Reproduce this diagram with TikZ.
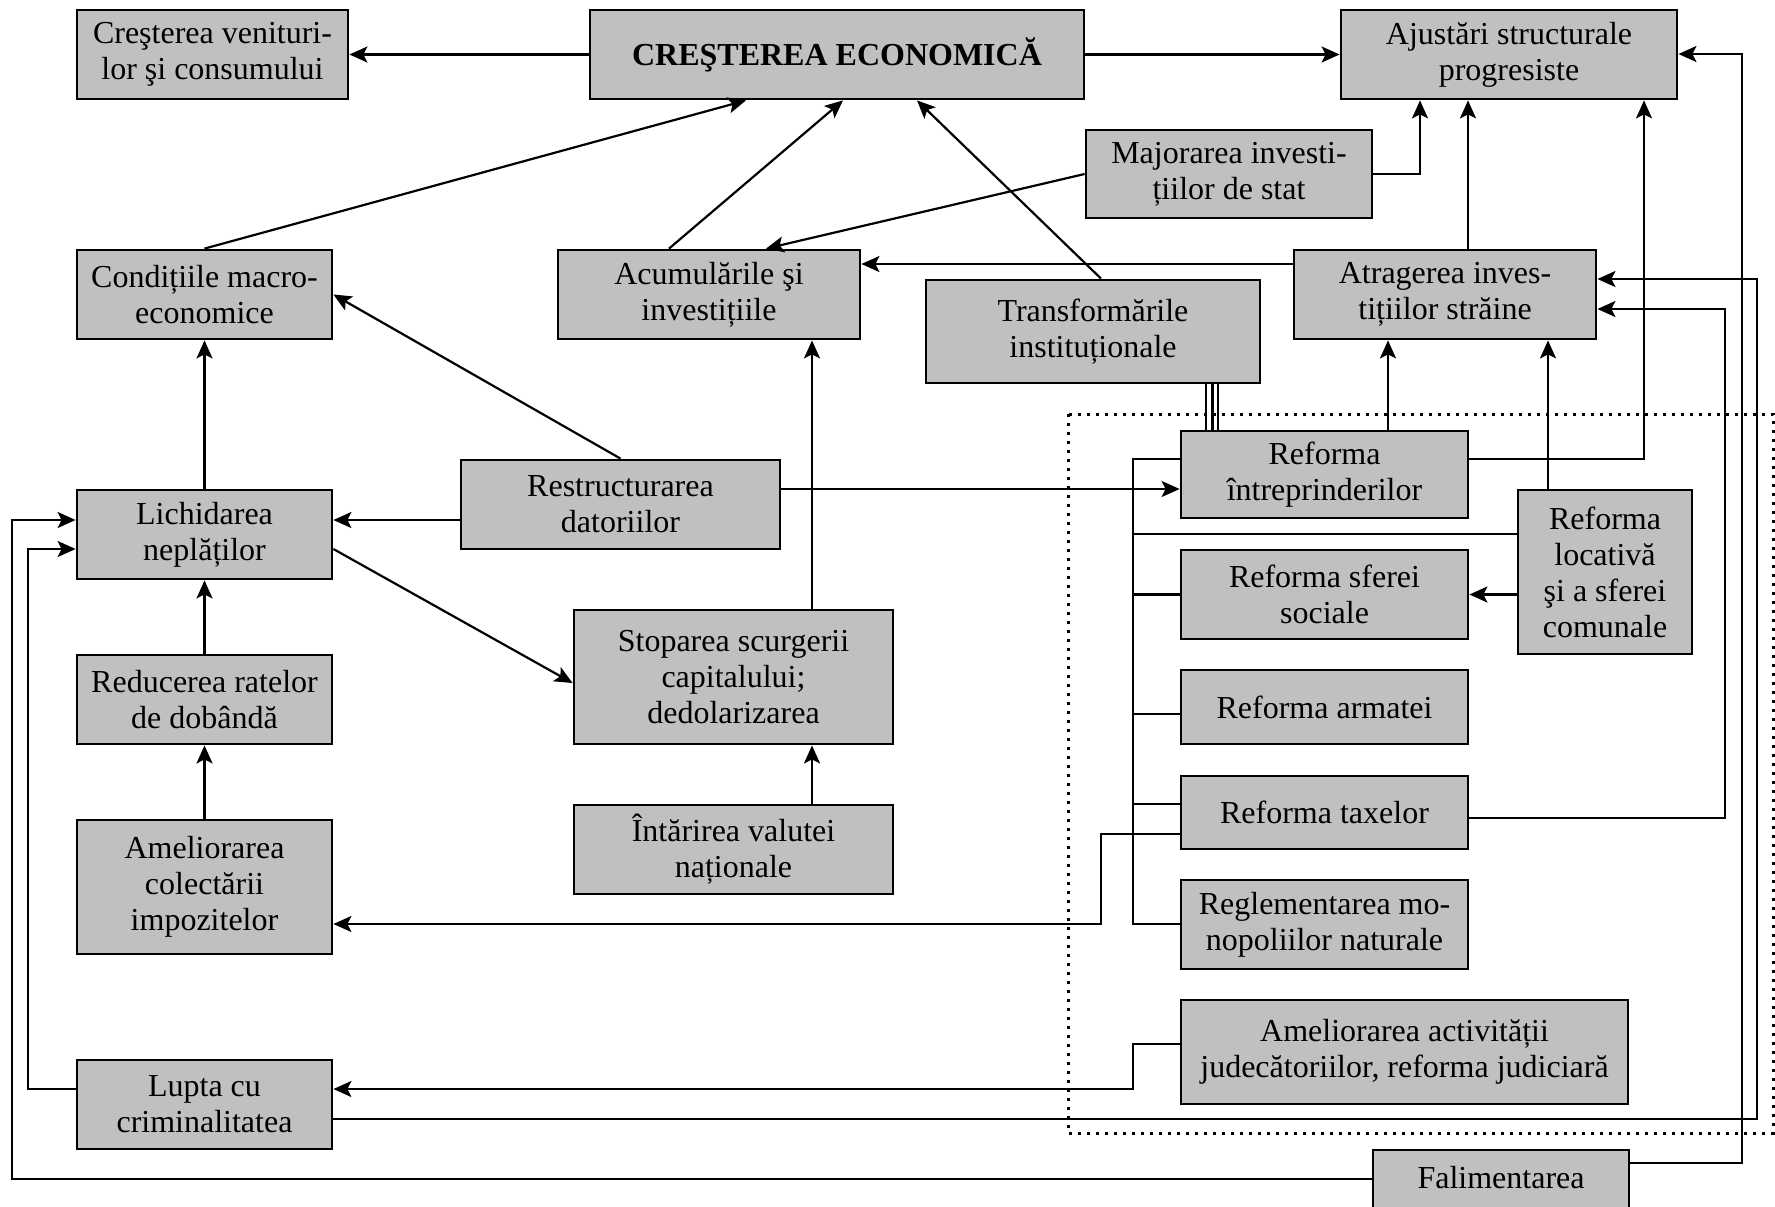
\documentclass[tikz,border=0pt]{standalone}
\usepackage{fontspec}
\setmainfont{Liberation Serif}
\usetikzlibrary{arrows.meta,calc}
\definecolor{boxgray}{HTML}{C0C0C0}
\newcommand\mkbox[6]{\node[bx, minimum width={(#4-#2)*0.5pt}, minimum height={(#5-#3)*0.5pt}] (#1) at ({(#2+#4)/2},{(#3+#5)/2}) {#6};}
\begin{document}
\begin{tikzpicture}[x=0.5pt,y=-0.5pt,
  bx/.style={draw=black, line width=1.4pt, fill=boxgray, inner sep=0pt, align=center, font=\fontsize{16}{18}\selectfont},
  ln/.style={line width=1.1pt},
  arr/.style={ln, -{Stealth[length=9pt,width=8pt,inset=2pt]}},
  dotbox/.style={line width=1.5pt, dash pattern=on 1.5pt off 3pt}
  ]
\useasboundingbox (0,0) rectangle (1775,1206);
\clip (0,0) rectangle (1775,1206);

% guides
\foreach \v in {746,669,843,1101,917,766,1420,1468,812,1388,1548,1644,1206,1212,1218}
  \coordinate (gx\v) at (\v,0);
\foreach \v in {264,520,549,683,489,534,714,804,834,818,1044,1119,1089,1179,1163}
  \coordinate (gy\v) at (0,\v);

% dotted group frame
\draw[dotbox] (1068,414) rectangle (1773,1133);

% boxes
\mkbox{venit}{77}{10}{348}{99}{Creşterea venituri-\\lor şi consumului}
\mkbox{econ}{590}{10}{1084}{99}{\textbf{CREŞTEREA ECONOMICĂ}}
\mkbox{ajust}{1341}{10}{1677}{99}{Ajustări structurale\\progresiste}
\mkbox{major}{1086}{130}{1372}{218}{Majorarea investi-\\țiilor de stat}
\mkbox{cond}{77}{250}{332}{339}{Condițiile macro-\\economice}
\mkbox{acum}{558}{250}{860}{339}{Acumulările şi\\investițiile}
\mkbox{transf}{926}{280}{1260}{383}{Transformările\\instituționale}
\mkbox{atrag}{1294}{250}{1596}{339}{Atragerea inves-\\tițiilor străine}
\mkbox{lichid}{77}{490}{332}{579}{Lichidarea\\neplăților}
\mkbox{restr}{461}{460}{780}{549}{Restructurarea\\datoriilor}
\mkbox{stop}{574}{610}{893}{744}{Stoparea scurgerii\\capitalului;\\dedolarizarea}
\mkbox{reduc}{77}{655}{332}{744}{Reducerea ratelor\\de dobândă}
\mkbox{amel}{77}{820}{332}{954}{Ameliorarea\\colectării\\impozitelor}
\mkbox{intar}{574}{805}{893}{894}{Întărirea valutei\\naționale}
\mkbox{lupta}{77}{1060}{332}{1149}{Lupta cu\\criminalitatea}
\mkbox{rintr}{1181}{431}{1468}{518}{Reforma\\întreprinderilor}
\mkbox{rloc}{1518}{490}{1692}{654}{Reforma\\locativă\\şi a sferei\\comunale}
\mkbox{rsoc}{1181}{550}{1468}{639}{Reforma sferei\\sociale}
\mkbox{rarm}{1181}{670}{1468}{744}{Reforma armatei}
\mkbox{rtax}{1181}{776}{1468}{849}{Reforma taxelor}
\mkbox{rmon}{1181}{880}{1468}{969}{Reglementarea mo-\\nopoliilor naturale}
\mkbox{rjud}{1181}{1000}{1628}{1104}{Ameliorarea activității\\judecătoriilor, reforma judiciară}
\mkbox{falim}{1373}{1150}{1629}{1240}{}
\node[font=\fontsize{16}{18}\selectfont] (falimtxt) at (1501,1178) {Falimentarea};

% connectors
\draw[arr] (econ.west) -- (venit.east);
\draw[arr] (econ.east) -- (ajust.west);
\draw[arr] (cond.north) -- (econ.south -| gx746);
\draw[arr] (acum.north -| gx669) -- (econ.south -| gx843);
\draw[arr] (transf.north -| gx1101) -- (econ.south -| gx917);
\draw[arr] (major.west) -- (acum.north -| gx766);
\draw[arr] (major.east) -| (ajust.south -| gx1420);
\draw[arr] (atrag.north -| gx1468) -- (ajust.south -| gx1468);
\draw[arr] (atrag.west |- gy264) -- (acum.east |- gy264);
\draw[arr] (lichid.north) -- (cond.south);
\draw[arr] (restr.north) -- (cond.east);
\draw[arr] (restr.west |- gy520) -- (lichid.east |- gy520);
\draw[arr] (lichid.east |- gy549) -- (stop.west |- gy683);
\draw[arr] (stop.north -| gx812) -- (acum.south -| gx812);
\draw[arr] (intar.north -| gx812) -- (stop.south -| gx812);
\draw[arr] (reduc.north) -- (lichid.south);
\draw[arr] (amel.north) -- (reduc.south);
\draw[arr] (restr.east |- gy489) -- (rintr.west |- gy489);
\draw[arr] (rintr.north -| gx1388) -- (atrag.south -| gx1388);
\draw[arr] (rloc.north -| gx1548) -- (atrag.south -| gx1548);
\coordinate (btop) at (1133,459);
\coordinate (bbot) at (1133,924);
\draw[arr] (rintr.east |- btop) -| (ajust.south -| gx1644);
\draw[arr] (rloc.west |- rsoc.east) -- (rsoc.east);

% bus
\draw[ln] (rintr.west |- btop) -- (btop) -- (bbot) -- (rmon.west |- bbot);
\draw[ln] (btop |- gy534) -- (rloc.west |- gy534);
\draw[ln] (btop |- rsoc.west) -- (rsoc.west);
\draw[ln] (btop |- gy714) -- (rarm.west |- gy714);
\draw[ln] (btop |- gy804) -- (rtax.west |- gy804);

% triple link
\draw[line width=0.9pt] (transf.south -| gx1206) -- (rintr.north -| gx1206);
\draw[line width=1.5pt] (transf.south -| gx1212) -- (rintr.north -| gx1212);
\draw[line width=0.9pt] (transf.south -| gx1218) -- (rintr.north -| gx1218);

% long routes
\coordinate (ctax) at (1101,924);
\draw[arr] (rtax.west |- gy834) -| (ctax) -- (amel.east |- ctax);
\coordinate (ctx2) at (1725,309);
\draw[arr] (rtax.east |- gy818) -| (ctx2) -- (atrag.east |- ctx2);
\coordinate (cjud) at (1133,1089);
\draw[arr] (rjud.west |- gy1044) -| (cjud) -- (lupta.east |- cjud);
\coordinate (clup) at (1757,279);
\draw[arr] (lupta.east |- gy1119) -| (clup) -- (atrag.east |- clup);
\coordinate (cl2) at (28,549);
\draw[arr] (lupta.west |- gy1089) -| (cl2) -- (lichid.west |- cl2);
\coordinate (cf1) at (12,520);
\draw[arr] (falim.west |- gy1179) -| (cf1) -- (lichid.west |- cf1);
\coordinate (cf2) at (1742,54);
\draw[arr] (falim.east |- gy1163) -| (cf2) -- (ajust.east |- cf2);
\end{tikzpicture}
\end{document}
